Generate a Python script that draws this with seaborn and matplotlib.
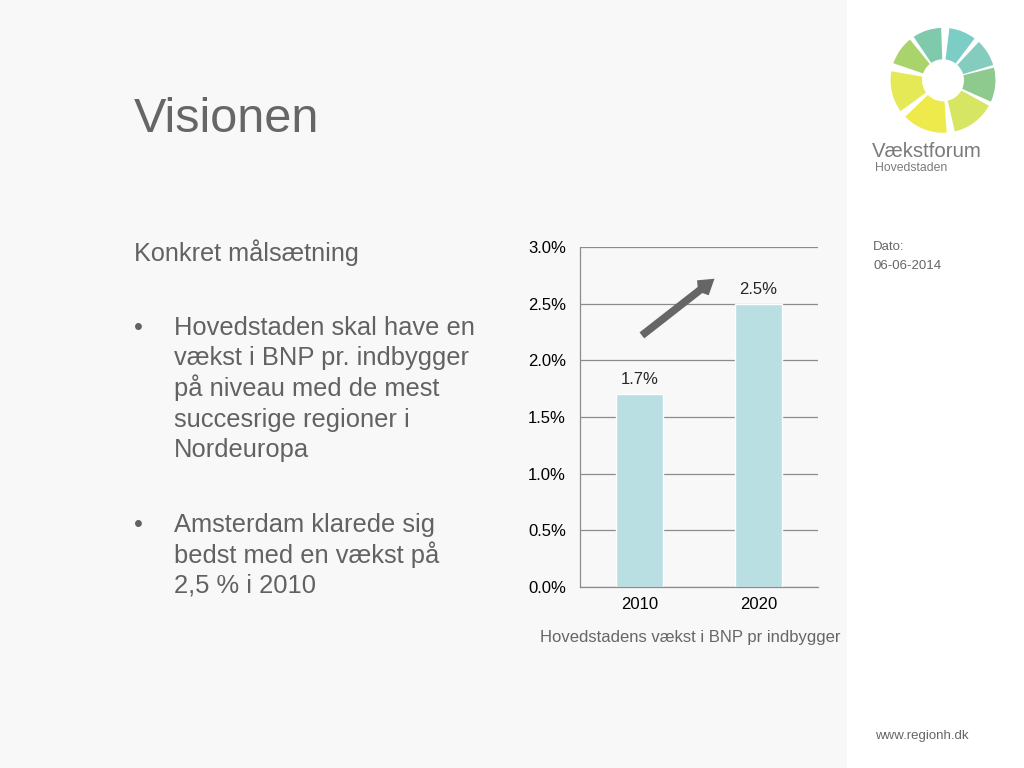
import numpy as np
import pandas as pd
import matplotlib
matplotlib.use("Agg")
import matplotlib.pyplot as plt
from matplotlib.patches import Wedge, Rectangle
from matplotlib.ticker import FuncFormatter, FixedLocator
import seaborn as sns

# chart data
years = ["2010", "2020"]
growth = [1.7, 2.5]
y_ticks = [0.0, 0.5, 1.0, 1.5, 2.0, 2.5, 3.0]
caption = "Hovedstadens vækst i BNP pr indbygger"

title = "Visionen"
subtitle = "Konkret målsætning"
bullet1 = ["Hovedstaden skal have en", "vækst i BNP pr. indbygger",
           "på niveau med de mest", "succesrige regioner i", "Nordeuropa"]
bullet2 = ["Amsterdam klarede sig", "bedst med en vækst på", "2,5 % i 2010"]

sns.set_style("white")
plt.rcParams['font.family'] = ['Liberation Sans', 'DejaVu Sans']

W, H = 1024, 768
fig = plt.figure(figsize=(W / 100, H / 100), dpi=100)
fig.patch.set_facecolor("#f8f8f8")


def fx(x):
    return x / W


def fy(y):
    return 1 - y / H


# white side panel on the right (drawn below the logo axes)
fig.patches.append(Rectangle((fx(847), 0), 1 - fx(847), 1, transform=fig.transFigure,
                             facecolor="white", edgecolor="none", zorder=-1))

# slide text
grey = "#626262"
fig.text(fx(134), fy(132), title, fontsize=35, color="#666666", va="baseline")
fig.text(fx(134), fy(261), subtitle, fontsize=18.2, color=grey, va="baseline")
for i, line in enumerate(bullet1):
    fig.text(fx(174), fy(335 + i * 30.5), line, fontsize=18.4, color=grey, va="baseline")
fig.text(fx(134), fy(335), "•", fontsize=18.4, color=grey, va="baseline")
for i, line in enumerate(bullet2):
    fig.text(fx(174), fy(532 + i * 30.5), line, fontsize=18.4, color=grey, va="baseline")
fig.text(fx(134), fy(532), "•", fontsize=18.4, color=grey, va="baseline")

fig.text(fx(873), fy(250), "Dato:", fontsize=9.5, color="#666666", va="baseline")
fig.text(fx(873), fy(269), "06-06-2014", fontsize=9.5, color="#666666", va="baseline")
fig.text(fx(875), fy(739), "www.regionh.dk", fontsize=9.5, color="#666666", va="baseline")

# logo: ring of segments around a star-shaped hole
lax = fig.add_axes([fx(880), fy(138), fx(1006) - fx(880), fy(20) - fy(138)])
lax.set_xlim(-1.2, 1.2)
lax.set_ylim(-1.1, 1.15)
lax.set_aspect("equal")
lax.axis("off")
seg_mid = [108, 68, 32, -5, -53, -111, -167, 145]
seg_span = [32, 30, 30, 38, 48, 50, 46, 32]
seg_cols = ["#7fc9ad", "#7bcdc6", "#84ccbd", "#8ec98d", "#d6e562", "#eeea4c", "#e6e956", "#a9d46b"]
for m, sp, c in zip(seg_mid, seg_span, seg_cols):
    lax.add_patch(Wedge((0, 0), 1.0, m - sp / 2, m + sp / 2, width=0.6,
                        facecolor=c, edgecolor="none"))
fig.text(fx(872), fy(157), "Vækstforum", fontsize=14.7, color="#7a7a7a", va="baseline")
fig.text(fx(875), fy(171), "Hovedstaden", fontsize=8.8, color="#7a7a7a", va="baseline")

# bar chart
ax = fig.add_axes([fx(580), fy(587), fx(818) - fx(580), fy(247) - fy(587)])
ax.set_facecolor("#f8f8f8")
df = pd.DataFrame({"year": years, "growth": growth})
sns.barplot(data=df, x="year", y="growth", color="#badfe3", width=0.4,
            saturation=1, ax=ax, zorder=2)
ax.set_xlim(-0.5, 1.5)
ax.set_ylim(0, 3.0)
ax.set_yticks(y_ticks)
ax.yaxis.set_major_formatter(FuncFormatter(lambda v, p: f"{v:.1f}%"))
ax.yaxis.grid(True, color="#8c8c8c", linewidth=0.9, zorder=0)
ax.set_axisbelow(True)
ax.set_xlabel("")
ax.set_ylabel("")
for s in ["top", "right"]:
    ax.spines[s].set_visible(False)
for s in ["left", "bottom"]:
    ax.spines[s].set_color("#8c8c8c")
    ax.spines[s].set_linewidth(0.9)
ax.tick_params(axis="y", length=0, labelsize=12, colors="black", pad=10)
ax.tick_params(axis="x", which="major", length=0, labelsize=12, colors="black", pad=7)
ax.xaxis.set_minor_locator(FixedLocator([-0.5, 0.5, 1.5]))
ax.tick_params(axis="x", which="minor", length=4, color="#8c8c8c", width=0.9)
ax.bar_label(ax.containers[0], labels=[f"{v:.1f}%" for v in growth],
             padding=5, fontsize=12)

# trend arrow
ax.annotate("", xy=(0.63, 2.72), xytext=(0.02, 2.22),
            arrowprops=dict(arrowstyle="->,head_length=0.7,head_width=0.45",
                            color="#666666", lw=5.5, capstyle="butt",
                            joinstyle="miter", shrinkA=0, shrinkB=0))

fig.text(fx(690), fy(642), caption, fontsize=12, color="#666666", ha="center", va="baseline")

fig.savefig("out.png", dpi=100, facecolor=fig.get_facecolor())
